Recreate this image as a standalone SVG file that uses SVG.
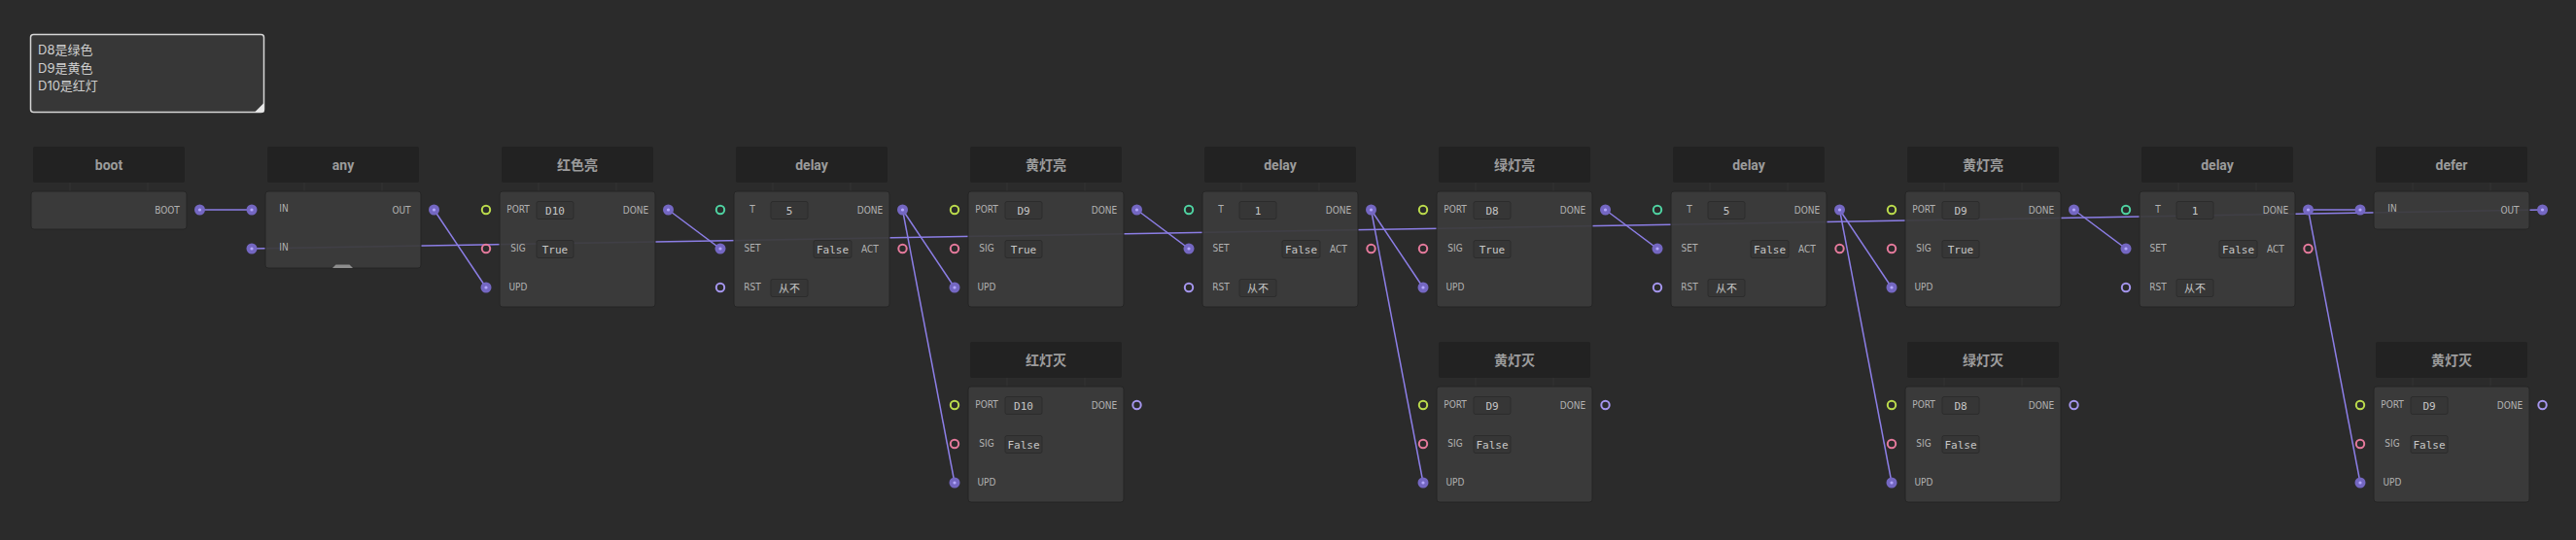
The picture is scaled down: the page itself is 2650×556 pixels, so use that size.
<svg xmlns="http://www.w3.org/2000/svg" width="2650" height="556" viewBox="0 0 2650 556">
<style>
.hd{fill:#222222}
.ht{font-family:Roboto,"Noto Sans CJK SC",sans-serif;font-weight:bold;font-size:14px;fill:#9c9c9c;text-anchor:middle}
.leg{stroke:#353535;stroke-width:1}
.bd{fill:#3b3b3b;fill-opacity:0.94;stroke:#252525;stroke-width:1}
.lb{font-family:"Liberation Sans Narrow","DejaVu Sans Condensed",Roboto,sans-serif;font-size:10px;fill:#b2b2b2;text-anchor:middle}
.vb{fill:#363636;stroke:#2c2c2c;stroke-width:1}
.vt{font-family:"DejaVu Sans Mono","Noto Sans CJK SC",monospace;font-size:11px;fill:#c6c6c6;text-anchor:middle}
.pf{fill:#7467c2}
.pd{fill:#b3a7ff}
.ry{fill:none;stroke:#bcdc4c;stroke-width:2}
.rp{fill:none;stroke:#e57a9c;stroke-width:2}
.rt{fill:none;stroke:#4fd3a2;stroke-width:2}
.rl{fill:none;stroke:#a596ee;stroke-width:2}
.cn{stroke:#8c7ee6;stroke-width:1.5;fill:none}
.ct{font-family:Inter,"Noto Sans CJK SC",sans-serif;font-size:13px;fill:#cfcfcf}
</style>
<defs>
<g id="pfill"><circle r="5.5" class="pf"/><circle r="1.6" class="pd"/></g>
</defs>
<rect width="2650" height="556" fill="#2b2b2b"/>

<g id="comment">
<rect x="31.5" y="35.5" width="240" height="80" rx="3" fill="#373737" stroke="#d6d6d6" stroke-width="1.5"/>
<polygon points="262,115.5 271.5,106 271.5,115.5" fill="#e8e8e8"/>
<text class="ct" x="39" y="56">D8是绿色</text>
<text class="ct" x="39" y="74.5">D9是黄色</text>
<text class="ct" x="39" y="93">D10是红灯</text>
</g>

<g id="connectors">
<line class="cn" x1="2615.5" y1="216" x2="259" y2="256"/>
<line class="cn" x1="205.5" y1="216" x2="259" y2="216"/>
<line class="cn" x1="446.5" y1="216" x2="500" y2="296"/>
<line class="cn" x1="687.5" y1="216" x2="741" y2="256"/>
<line class="cn" x1="928.5" y1="216" x2="982" y2="296"/>
<line class="cn" x1="928.5" y1="216" x2="982" y2="497"/>
<line class="cn" x1="1169.5" y1="216" x2="1223" y2="256"/>
<line class="cn" x1="1410.5" y1="216" x2="1464" y2="296"/>
<line class="cn" x1="1410.5" y1="216" x2="1464" y2="497"/>
<line class="cn" x1="1651.5" y1="216" x2="1705" y2="256"/>
<line class="cn" x1="1892.5" y1="216" x2="1946" y2="296"/>
<line class="cn" x1="1892.5" y1="216" x2="1946" y2="497"/>
<line class="cn" x1="2133.5" y1="216" x2="2187" y2="256"/>
<line class="cn" x1="2374.5" y1="216" x2="2428" y2="216"/>
<line class="cn" x1="2374.5" y1="216" x2="2428" y2="497"/>
</g>

<g id="boot">
<rect class="hd" x="34" y="151" width="156" height="37" rx="2"/>
<text class="ht" x="112" y="174.5">boot</text>
<line class="leg" x1="72" y1="188" x2="72" y2="197"/><line class="leg" x1="152" y1="188" x2="152" y2="197"/>
<rect class="bd" x="32" y="197" width="160" height="39" rx="3"/>
<text class="lb" x="172" y="220">BOOT</text>
<use href="#pfill" x="205.5" y="216"/>
</g>

<g id="any">
<rect class="hd" x="275" y="151" width="156" height="37" rx="2"/>
<text class="ht" x="353" y="174.5">any</text>
<line class="leg" x1="313" y1="188" x2="313" y2="197"/><line class="leg" x1="393" y1="188" x2="393" y2="197"/>
<rect class="bd" x="273" y="197" width="160" height="79" rx="3"/>
<polygon points="342,276 345.5,272.5 359.5,272.5 363,276" fill="#8e8e8e"/>
<text class="lb" x="292" y="218">IN</text>
<text class="lb" x="292" y="258">IN</text>
<text class="lb" x="413" y="220">OUT</text>
<use href="#pfill" x="259" y="216"/>
<use href="#pfill" x="259" y="256"/>
<use href="#pfill" x="446.5" y="216"/>
</g>

<g id="red-on">
<rect class="hd" x="516" y="151" width="156" height="37" rx="2"/>
<text class="ht" x="594" y="174.5">红色亮</text>
<line class="leg" x1="554" y1="188" x2="554" y2="197"/><line class="leg" x1="634" y1="188" x2="634" y2="197"/>
<rect class="bd" x="514" y="197" width="160" height="119" rx="3"/>
<text class="lb" x="533" y="218.5">PORT</text>
<text class="lb" x="533" y="258.5">SIG</text>
<text class="lb" x="533" y="298.5">UPD</text>
<text class="lb" x="654" y="220">DONE</text>
<rect class="vb" x="552" y="207.5" width="38" height="18" rx="2"/><text class="vt" x="571" y="220.5">D10</text>
<rect class="vb" x="552" y="247.5" width="38" height="18" rx="2"/><text class="vt" x="571" y="260.5">True</text>
<circle class="ry" cx="500" cy="216" r="4.2"/>
<circle class="rp" cx="500" cy="256" r="4.2"/>
<use href="#pfill" x="500" y="296"/>
<use href="#pfill" x="687.5" y="216"/>
</g>

<g id="delay1">
<rect class="hd" x="757" y="151" width="156" height="37" rx="2"/>
<text class="ht" x="835" y="174.5">delay</text>
<line class="leg" x1="795" y1="188" x2="795" y2="197"/><line class="leg" x1="875" y1="188" x2="875" y2="197"/>
<rect class="bd" x="755" y="197" width="160" height="119" rx="3"/>
<text class="lb" x="774" y="218.5">T</text>
<text class="lb" x="774" y="258.5">SET</text>
<text class="lb" x="774" y="298.5">RST</text>
<text class="lb" x="895" y="220">DONE</text>
<text class="lb" x="895" y="260">ACT</text>
<rect class="vb" x="793" y="207.5" width="38" height="18" rx="2"/><text class="vt" x="812" y="220.5">5</text>
<rect class="vb" x="837" y="247.5" width="39" height="18" rx="2"/><text class="vt" x="856.5" y="260.5">False</text>
<rect class="vb" x="793" y="287.5" width="38" height="18" rx="2"/><text class="vt" x="812" y="300.5">从不</text>
<circle class="rt" cx="741" cy="216" r="4.2"/>
<use href="#pfill" x="741" y="256"/>
<circle class="rl" cx="741" cy="296" r="4.2"/>
<use href="#pfill" x="928.5" y="216"/>
<circle class="rp" cx="928.5" cy="256" r="4.2"/>
</g>

<g id="yellow-on1">
<rect class="hd" x="998" y="151" width="156" height="37" rx="2"/>
<text class="ht" x="1076" y="174.5">黄灯亮</text>
<line class="leg" x1="1036" y1="188" x2="1036" y2="197"/><line class="leg" x1="1116" y1="188" x2="1116" y2="197"/>
<rect class="bd" x="996" y="197" width="160" height="119" rx="3"/>
<text class="lb" x="1015" y="218.5">PORT</text>
<text class="lb" x="1015" y="258.5">SIG</text>
<text class="lb" x="1015" y="298.5">UPD</text>
<text class="lb" x="1136" y="220">DONE</text>
<rect class="vb" x="1034" y="207.5" width="38" height="18" rx="2"/><text class="vt" x="1053" y="220.5">D9</text>
<rect class="vb" x="1034" y="247.5" width="38" height="18" rx="2"/><text class="vt" x="1053" y="260.5">True</text>
<circle class="ry" cx="982" cy="216" r="4.2"/>
<circle class="rp" cx="982" cy="256" r="4.2"/>
<use href="#pfill" x="982" y="296"/>
<use href="#pfill" x="1169.5" y="216"/>
</g>

<g id="red-off">
<rect class="hd" x="998" y="352" width="156" height="37" rx="2"/>
<text class="ht" x="1076" y="375.5">红灯灭</text>
<line class="leg" x1="1036" y1="389" x2="1036" y2="398"/><line class="leg" x1="1116" y1="389" x2="1116" y2="398"/>
<rect class="bd" x="996" y="398" width="160" height="119" rx="3"/>
<text class="lb" x="1015" y="419.5">PORT</text>
<text class="lb" x="1015" y="459.5">SIG</text>
<text class="lb" x="1015" y="499.5">UPD</text>
<text class="lb" x="1136" y="421">DONE</text>
<rect class="vb" x="1034" y="408.5" width="38" height="18" rx="2"/><text class="vt" x="1053" y="421.5">D10</text>
<rect class="vb" x="1034" y="448.5" width="38" height="18" rx="2"/><text class="vt" x="1053" y="461.5">False</text>
<circle class="ry" cx="982" cy="417" r="4.2"/>
<circle class="rp" cx="982" cy="457" r="4.2"/>
<use href="#pfill" x="982" y="497"/>
<circle class="rl" cx="1169.5" cy="417" r="4.2"/>
</g>

<g id="delay2">
<rect class="hd" x="1239" y="151" width="156" height="37" rx="2"/>
<text class="ht" x="1317" y="174.5">delay</text>
<line class="leg" x1="1277" y1="188" x2="1277" y2="197"/><line class="leg" x1="1357" y1="188" x2="1357" y2="197"/>
<rect class="bd" x="1237" y="197" width="160" height="119" rx="3"/>
<text class="lb" x="1256" y="218.5">T</text>
<text class="lb" x="1256" y="258.5">SET</text>
<text class="lb" x="1256" y="298.5">RST</text>
<text class="lb" x="1377" y="220">DONE</text>
<text class="lb" x="1377" y="260">ACT</text>
<rect class="vb" x="1275" y="207.5" width="38" height="18" rx="2"/><text class="vt" x="1294" y="220.5">1</text>
<rect class="vb" x="1319" y="247.5" width="39" height="18" rx="2"/><text class="vt" x="1338.5" y="260.5">False</text>
<rect class="vb" x="1275" y="287.5" width="38" height="18" rx="2"/><text class="vt" x="1294" y="300.5">从不</text>
<circle class="rt" cx="1223" cy="216" r="4.2"/>
<use href="#pfill" x="1223" y="256"/>
<circle class="rl" cx="1223" cy="296" r="4.2"/>
<use href="#pfill" x="1410.5" y="216"/>
<circle class="rp" cx="1410.5" cy="256" r="4.2"/>
</g>

<g id="green-on">
<rect class="hd" x="1480" y="151" width="156" height="37" rx="2"/>
<text class="ht" x="1558" y="174.5">绿灯亮</text>
<line class="leg" x1="1518" y1="188" x2="1518" y2="197"/><line class="leg" x1="1598" y1="188" x2="1598" y2="197"/>
<rect class="bd" x="1478" y="197" width="160" height="119" rx="3"/>
<text class="lb" x="1497" y="218.5">PORT</text>
<text class="lb" x="1497" y="258.5">SIG</text>
<text class="lb" x="1497" y="298.5">UPD</text>
<text class="lb" x="1618" y="220">DONE</text>
<rect class="vb" x="1516" y="207.5" width="38" height="18" rx="2"/><text class="vt" x="1535" y="220.5">D8</text>
<rect class="vb" x="1516" y="247.5" width="38" height="18" rx="2"/><text class="vt" x="1535" y="260.5">True</text>
<circle class="ry" cx="1464" cy="216" r="4.2"/>
<circle class="rp" cx="1464" cy="256" r="4.2"/>
<use href="#pfill" x="1464" y="296"/>
<use href="#pfill" x="1651.5" y="216"/>
</g>

<g id="yellow-off1">
<rect class="hd" x="1480" y="352" width="156" height="37" rx="2"/>
<text class="ht" x="1558" y="375.5">黄灯灭</text>
<line class="leg" x1="1518" y1="389" x2="1518" y2="398"/><line class="leg" x1="1598" y1="389" x2="1598" y2="398"/>
<rect class="bd" x="1478" y="398" width="160" height="119" rx="3"/>
<text class="lb" x="1497" y="419.5">PORT</text>
<text class="lb" x="1497" y="459.5">SIG</text>
<text class="lb" x="1497" y="499.5">UPD</text>
<text class="lb" x="1618" y="421">DONE</text>
<rect class="vb" x="1516" y="408.5" width="38" height="18" rx="2"/><text class="vt" x="1535" y="421.5">D9</text>
<rect class="vb" x="1516" y="448.5" width="38" height="18" rx="2"/><text class="vt" x="1535" y="461.5">False</text>
<circle class="ry" cx="1464" cy="417" r="4.2"/>
<circle class="rp" cx="1464" cy="457" r="4.2"/>
<use href="#pfill" x="1464" y="497"/>
<circle class="rl" cx="1651.5" cy="417" r="4.2"/>
</g>

<g id="delay3">
<rect class="hd" x="1721" y="151" width="156" height="37" rx="2"/>
<text class="ht" x="1799" y="174.5">delay</text>
<line class="leg" x1="1759" y1="188" x2="1759" y2="197"/><line class="leg" x1="1839" y1="188" x2="1839" y2="197"/>
<rect class="bd" x="1719" y="197" width="160" height="119" rx="3"/>
<text class="lb" x="1738" y="218.5">T</text>
<text class="lb" x="1738" y="258.5">SET</text>
<text class="lb" x="1738" y="298.5">RST</text>
<text class="lb" x="1859" y="220">DONE</text>
<text class="lb" x="1859" y="260">ACT</text>
<rect class="vb" x="1757" y="207.5" width="38" height="18" rx="2"/><text class="vt" x="1776" y="220.5">5</text>
<rect class="vb" x="1801" y="247.5" width="39" height="18" rx="2"/><text class="vt" x="1820.5" y="260.5">False</text>
<rect class="vb" x="1757" y="287.5" width="38" height="18" rx="2"/><text class="vt" x="1776" y="300.5">从不</text>
<circle class="rt" cx="1705" cy="216" r="4.2"/>
<use href="#pfill" x="1705" y="256"/>
<circle class="rl" cx="1705" cy="296" r="4.2"/>
<use href="#pfill" x="1892.5" y="216"/>
<circle class="rp" cx="1892.5" cy="256" r="4.2"/>
</g>

<g id="yellow-on2">
<rect class="hd" x="1962" y="151" width="156" height="37" rx="2"/>
<text class="ht" x="2040" y="174.5">黄灯亮</text>
<line class="leg" x1="2000" y1="188" x2="2000" y2="197"/><line class="leg" x1="2080" y1="188" x2="2080" y2="197"/>
<rect class="bd" x="1960" y="197" width="160" height="119" rx="3"/>
<text class="lb" x="1979" y="218.5">PORT</text>
<text class="lb" x="1979" y="258.5">SIG</text>
<text class="lb" x="1979" y="298.5">UPD</text>
<text class="lb" x="2100" y="220">DONE</text>
<rect class="vb" x="1998" y="207.5" width="38" height="18" rx="2"/><text class="vt" x="2017" y="220.5">D9</text>
<rect class="vb" x="1998" y="247.5" width="38" height="18" rx="2"/><text class="vt" x="2017" y="260.5">True</text>
<circle class="ry" cx="1946" cy="216" r="4.2"/>
<circle class="rp" cx="1946" cy="256" r="4.2"/>
<use href="#pfill" x="1946" y="296"/>
<use href="#pfill" x="2133.5" y="216"/>
</g>

<g id="green-off">
<rect class="hd" x="1962" y="352" width="156" height="37" rx="2"/>
<text class="ht" x="2040" y="375.5">绿灯灭</text>
<line class="leg" x1="2000" y1="389" x2="2000" y2="398"/><line class="leg" x1="2080" y1="389" x2="2080" y2="398"/>
<rect class="bd" x="1960" y="398" width="160" height="119" rx="3"/>
<text class="lb" x="1979" y="419.5">PORT</text>
<text class="lb" x="1979" y="459.5">SIG</text>
<text class="lb" x="1979" y="499.5">UPD</text>
<text class="lb" x="2100" y="421">DONE</text>
<rect class="vb" x="1998" y="408.5" width="38" height="18" rx="2"/><text class="vt" x="2017" y="421.5">D8</text>
<rect class="vb" x="1998" y="448.5" width="38" height="18" rx="2"/><text class="vt" x="2017" y="461.5">False</text>
<circle class="ry" cx="1946" cy="417" r="4.2"/>
<circle class="rp" cx="1946" cy="457" r="4.2"/>
<use href="#pfill" x="1946" y="497"/>
<circle class="rl" cx="2133.5" cy="417" r="4.2"/>
</g>

<g id="delay4">
<rect class="hd" x="2203" y="151" width="156" height="37" rx="2"/>
<text class="ht" x="2281" y="174.5">delay</text>
<line class="leg" x1="2241" y1="188" x2="2241" y2="197"/><line class="leg" x1="2321" y1="188" x2="2321" y2="197"/>
<rect class="bd" x="2201" y="197" width="160" height="119" rx="3"/>
<text class="lb" x="2220" y="218.5">T</text>
<text class="lb" x="2220" y="258.5">SET</text>
<text class="lb" x="2220" y="298.5">RST</text>
<text class="lb" x="2341" y="220">DONE</text>
<text class="lb" x="2341" y="260">ACT</text>
<rect class="vb" x="2239" y="207.5" width="38" height="18" rx="2"/><text class="vt" x="2258" y="220.5">1</text>
<rect class="vb" x="2283" y="247.5" width="39" height="18" rx="2"/><text class="vt" x="2302.5" y="260.5">False</text>
<rect class="vb" x="2239" y="287.5" width="38" height="18" rx="2"/><text class="vt" x="2258" y="300.5">从不</text>
<circle class="rt" cx="2187" cy="216" r="4.2"/>
<use href="#pfill" x="2187" y="256"/>
<circle class="rl" cx="2187" cy="296" r="4.2"/>
<use href="#pfill" x="2374.5" y="216"/>
<circle class="rp" cx="2374.5" cy="256" r="4.2"/>
</g>

<g id="defer">
<rect class="hd" x="2444" y="151" width="156" height="37" rx="2"/>
<text class="ht" x="2522" y="174.5">defer</text>
<line class="leg" x1="2482" y1="188" x2="2482" y2="197"/><line class="leg" x1="2562" y1="188" x2="2562" y2="197"/>
<rect class="bd" x="2442" y="197" width="160" height="39" rx="3"/>
<text class="lb" x="2461" y="218">IN</text>
<text class="lb" x="2582" y="220">OUT</text>
<use href="#pfill" x="2428" y="216"/>
<use href="#pfill" x="2615.5" y="216"/>
</g>

<g id="yellow-off2">
<rect class="hd" x="2444" y="352" width="156" height="37" rx="2"/>
<text class="ht" x="2522" y="375.5">黄灯灭</text>
<line class="leg" x1="2482" y1="389" x2="2482" y2="398"/><line class="leg" x1="2562" y1="389" x2="2562" y2="398"/>
<rect class="bd" x="2442" y="398" width="160" height="119" rx="3"/>
<text class="lb" x="2461" y="419.5">PORT</text>
<text class="lb" x="2461" y="459.5">SIG</text>
<text class="lb" x="2461" y="499.5">UPD</text>
<text class="lb" x="2582" y="421">DONE</text>
<rect class="vb" x="2480" y="408.5" width="38" height="18" rx="2"/><text class="vt" x="2499" y="421.5">D9</text>
<rect class="vb" x="2480" y="448.5" width="38" height="18" rx="2"/><text class="vt" x="2499" y="461.5">False</text>
<circle class="ry" cx="2428" cy="417" r="4.2"/>
<circle class="rp" cx="2428" cy="457" r="4.2"/>
<use href="#pfill" x="2428" y="497"/>
<circle class="rl" cx="2615.5" cy="417" r="4.2"/>
</g>
</svg>
